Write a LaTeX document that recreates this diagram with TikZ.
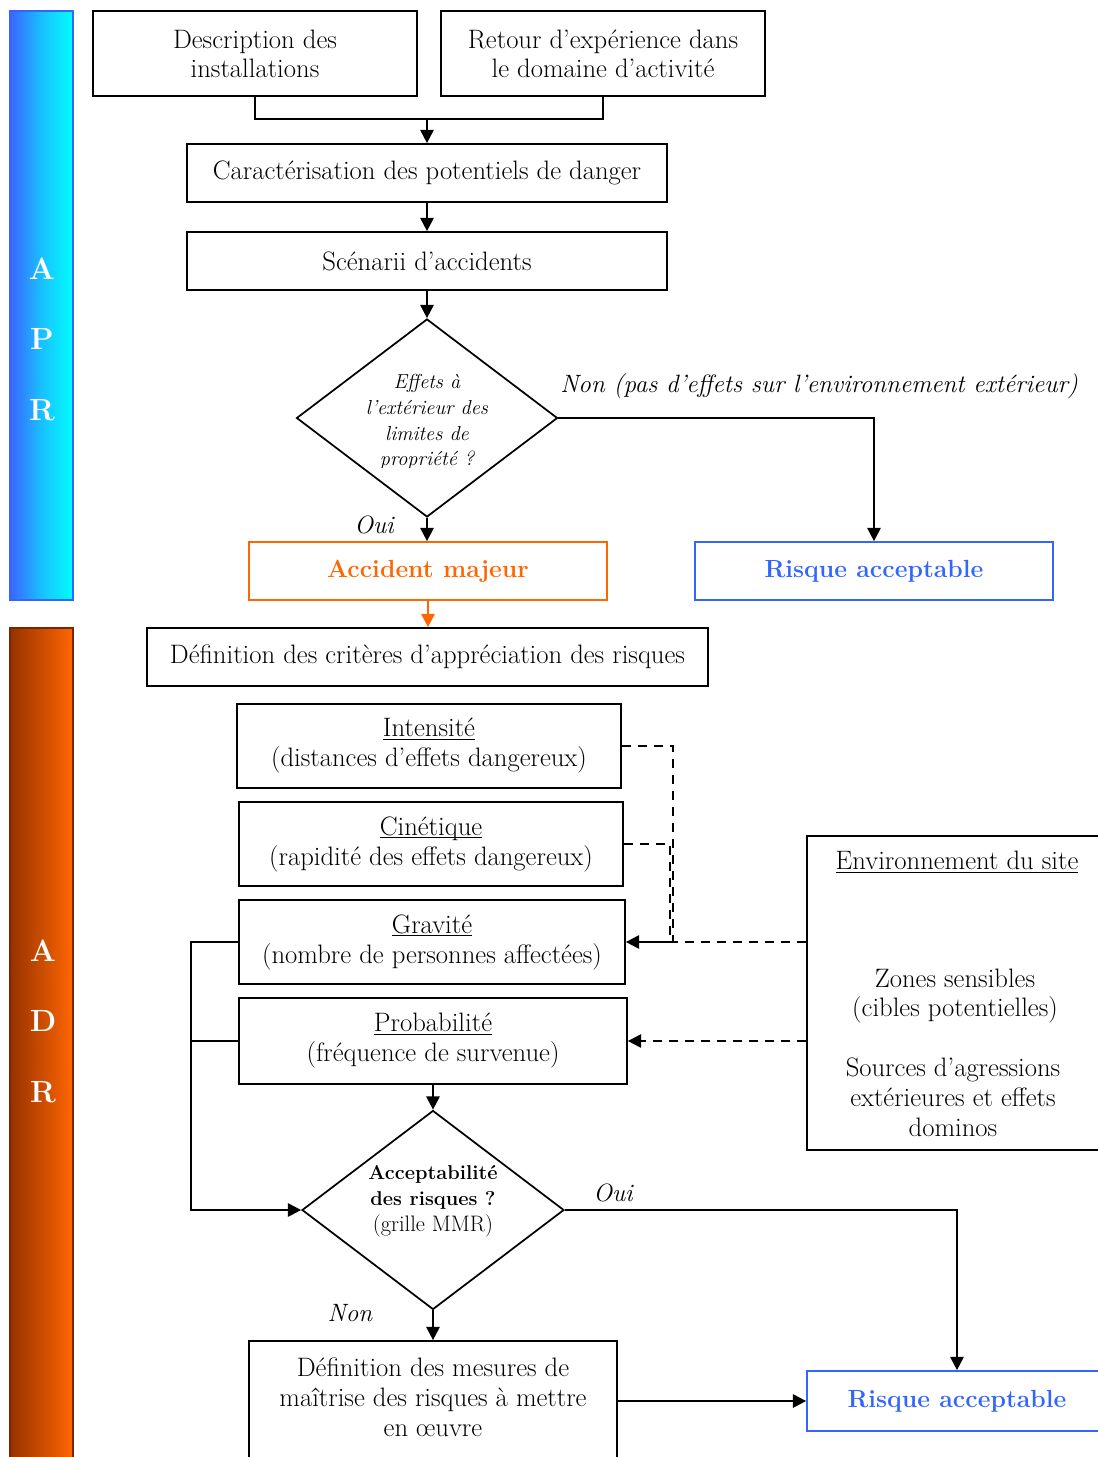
\documentclass[tikz,border=0pt]{standalone}
\usepackage{fontspec}
\usetikzlibrary{shapes.geometric,arrows.meta,calc}
\definecolor{rblue}{RGB}{51,102,255}
\definecolor{rorange}{RGB}{255,102,0}
\definecolor{bardark}{RGB}{150,50,0}
\definecolor{barblue}{RGB}{60,100,255}
\newcommand\myul[1]{\setbox0\hbox{#1}\rlap{\rule[-2.6pt]{\wd0}{0.8pt}}\box0}
\begin{document}
\begin{tikzpicture}[x=0.75pt,y=-0.75pt,
  box/.style={draw=black,line width=1.3pt,rectangle,inner sep=2pt,align=center,
     font=\fontsize{20}{21.75}\selectfont},
  bluebox/.style={draw=rblue,line width=1.3pt,rectangle,align=center,text=rblue,
     font=\fontsize{18.6}{21}\selectfont\bfseries},
  orangebox/.style={draw=rorange,line width=1.3pt,rectangle,align=center,text=rorange,
     font=\fontsize{18.6}{21}\selectfont\bfseries},
  dia/.style={diamond,draw=black,line width=1.3pt,inner sep=0pt},
  conn/.style={line width=1.6pt},
  arr/.style={line width=1.6pt,-{Triangle[length=10pt,width=10pt]}},
  lbl/.style={font=\fontsize{18.8}{20}\selectfont\itshape,inner sep=0pt},
  txt/.style={font=\fontsize{20}{21.75}\selectfont,align=center,inner sep=0pt},
  crit/.style={box,font=\fontsize{20}{22.5}\selectfont},
  barletter/.style={text=white,font=\fontsize{23}{24}\selectfont\bfseries,inner sep=0pt},
  dashline/.style={line width=1.5pt,dash pattern=on 7pt off 5pt}
]
\useasboundingbox (0,0) rectangle (1098,1457);

% side bars
\shade[left color=barblue,right color=cyan,middle color=barblue!40!cyan] (10,11) rectangle (73,600);
\draw[rblue,line width=1pt] (10,11) rectangle (73,600);
\shade[left color=bardark,right color=rorange] (10,628) rectangle (73,1475);
\draw[bardark!80!black,line width=1pt] (10,628) rectangle (73,1475);
\node[barletter] (la1) at (42,269) {A};
\node[barletter] (lp1) at (42,339) {P};
\node[barletter] (lr1) at (42,410) {R};
\node[barletter] (la2) at (43,951) {A};
\node[barletter] (ld2) at (43,1021) {D};
\node[barletter] (lr2) at (43,1092) {R};

% top boxes
\node[box,minimum width=243pt,minimum height=63.75pt] (desc) at (255,53.5) {Description des\\installations};
\node[box,minimum width=243pt,minimum height=63.75pt] (retour) at (603,53.5) {Retour d’expérience dans\\le domaine d’activité};
\node[box,minimum width=360pt,minimum height=43.5pt] (carac) at (427,173) {Caractérisation des potentiels de danger};
\node[box,minimum width=360pt,minimum height=43.5pt] (scen) at (427,261) {Scénarii d’accidents};

\coordinate (m1) at (427,119);
\draw[conn] (desc.south) |- (m1);
\draw[conn] (retour.south) |- (m1);
\draw[arr] (m1) -- (carac.north);
\draw[arr] (carac.south) -- (scen.north);

% diamond 1
\node[dia,minimum width=195.75pt,minimum height=148.5pt] (dia1) at (427,418) {};
\draw[arr] (scen.south) -- (dia1.north);
\begin{scope}
\clip (330,366) rectangle (525,467);
\node[font=\fontsize{15.2}{19.3}\selectfont\itshape,align=center,inner sep=0pt] (dia1t) at (427,422) {Effets à\\l’extérieur des\\limites de\\propriété ?};
\end{scope}

\node[lbl,anchor=west] (non1) at (560,386) {Non (pas d’effets sur l’environnement extérieur)};
\node[lbl] (oui1) at (374,525) {Oui};

\node[bluebox,minimum width=268.5pt,minimum height=43.5pt] (risk1) at (874,571) {Risque acceptable};
\node[orangebox,minimum width=268.5pt,minimum height=43.5pt] (acc) at (428,571) {Accident majeur};

\draw[arr] (dia1.east) -| (risk1.north);
\draw[arr] (dia1.south) -- (dia1.south |- acc.north);

% ADR part
\node[box,minimum width=420.75pt,minimum height=43.5pt] (crit) at (427.5,657) {Définition des critères d’appréciation des risques};
\draw[arr,rorange] (acc.south) -- (acc.south |- crit.north);

\node[crit,minimum width=288pt,minimum height=63pt] (intens) at (429,746) {\myul{Intensité}\\(distances d’effets dangereux)};
\node[crit,minimum width=288pt,minimum height=63pt] (cinet) at (431,844) {\myul{Cinétique}\\(rapidité des effets dangereux)};
\node[crit,minimum width=289.5pt,minimum height=63pt] (grav) at (432,942) {\myul{Gravité}\\(nombre de personnes affectées)};
\node[crit,minimum width=291pt,minimum height=64.5pt] (proba) at (433,1041) {\myul{Probabilité}\\(fréquence de survenue)};

\node[box,minimum width=222pt,minimum height=235.5pt] (env) at (955,993) {};
\node[txt] (envt) at (957,862) {\myul{Environnement du site}};
\node[txt] (envz) at (955,996) {Zones sensibles\\(cibles potentielles)};
\node[txt,font=\fontsize{20}{22.5}\selectfont] (envs) at (953,1097) {Sources d’agressions\\extérieures et effets\\dominos};

% dashed links
\coordinate (j1) at (673,942);
\coordinate (j2) at (670,942);
\draw[dashline] (intens.east) -| (j1);
\draw[dashline] (cinet.east) -| (j2);
\draw[dashline] (env.west |- grav.east) -- (j1);
\draw[arr] (j1) -- (grav.east);
\draw[dashline,-{Triangle[length=10pt,width=10pt]}] (env.west |- proba.east) -- (proba.east);

% diamond 2
\node[dia,minimum width=196.5pt,minimum height=149.25pt] (dia2) at (433,1210) {};
\node[font=\fontsize{15}{19.5}\selectfont,align=center,inner sep=0pt] (dia2t) at (433,1201) {\textbf{Acceptabilité}\\\textbf{des risques ?}\\{\fontsize{16.8}{19.5}\selectfont (grille MMR)}};
\draw[arr] (proba.south) -- (dia2.north);

\coordinate (lx) at (191,942);
\draw[arr] (grav.west) -- (lx) |- (dia2.west);
\draw[conn] (proba.west) -- (lx |- proba.west);

\node[lbl] (oui2) at (613,1193) {Oui};
\node[lbl] (non2) at (350,1313) {Non};

\node[bluebox,minimum width=225pt,minimum height=45pt] (risk2) at (957,1401) {Risque acceptable};
\draw[arr] (dia2.east) -| (risk2.north);

\node[box,minimum width=276pt,minimum height=100.5pt] (mes) at (433,1408) {};
\node[txt,font=\fontsize{20}{22.5}\selectfont] (mest) at (433,1397) {Définition des mesures de\\maîtrise des risques à mettre\\en œuvre};
\draw[arr] (dia2.south) -- (mes.north);
\draw[arr] (mes.east |- risk2.west) -- (risk2.west);
\end{tikzpicture}
\end{document}
